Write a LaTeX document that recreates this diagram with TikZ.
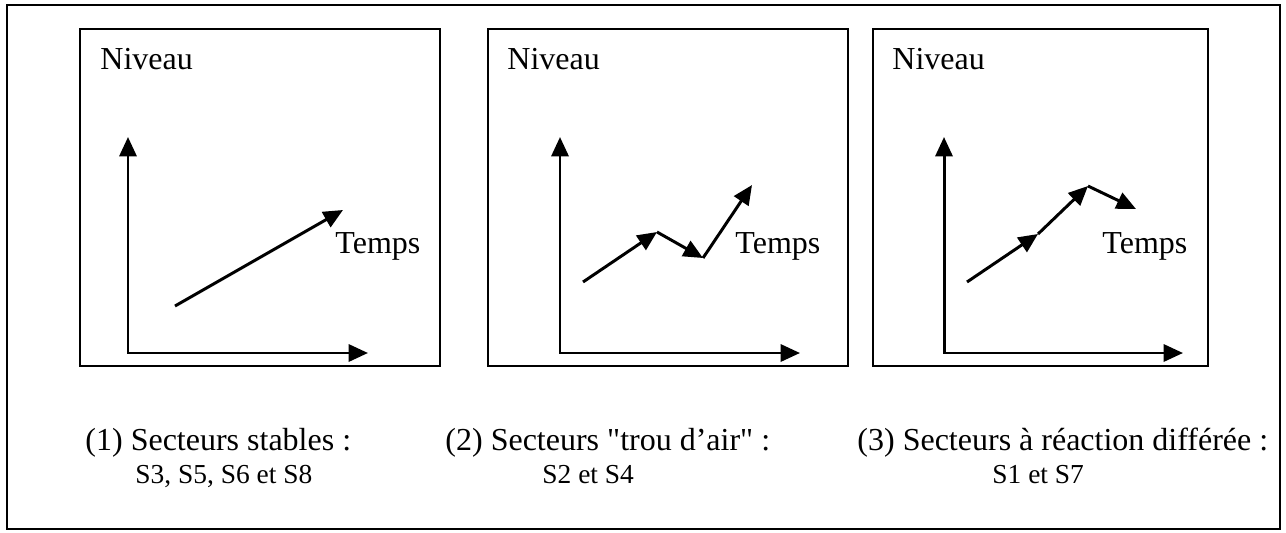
\documentclass[tikz,border=0pt]{standalone}
\usepackage{fontspec}
\setmainfont{Liberation Serif}[Ligatures=TeXOff]
\usetikzlibrary{arrows.meta}

\tikzset{
  fleche/.style={line width=1.3pt,-{Triangle[length=8.5pt,width=7.5pt]}},
  axe/.style={line width=1.3pt,{Triangle[length=8.5pt,width=7.5pt]}-{Triangle[length=8.5pt,width=7.5pt]}},
  cadre/.style={draw,line width=0.9pt},
  grand/.style={anchor=base west,inner sep=0pt,font=\fontsize{14}{16}\selectfont},
  petit/.style={anchor=base west,inner sep=0pt,font=\fontsize{12}{14}\selectfont}
}

\begin{document}
\begin{tikzpicture}
  [x=0.4375pt,y=-0.4375pt]
  \useasboundingbox (0,0) rectangle (1286,532);
  \draw[line width=0.7pt] (7,5) rectangle (1280,529);

  % cadres
  \draw[cadre] (80,29) rectangle (440,366);
  \draw[cadre] (488,29) rectangle (848,366);
  \draw[cadre] (873,29) rectangle (1208,366);

  % axes
  \coordinate (O1) at (128,353); \coordinate (Y1) at (128,137); \coordinate (X1) at (368,353);
  \coordinate (O2) at (560,353); \coordinate (Y2) at (560,137); \coordinate (X2) at (800,353);
  \coordinate (O3) at (944,353); \coordinate (Y3) at (944,137); \coordinate (X3) at (1183,353);

  \foreach \i in {1,2,3}
    \draw[axe] (Y\i) -- (O\i) -- (X\i);

  \foreach \i/\x in {1/100,2/507,3/892}
    \node[grand] (niv\i) at (\x,69) {Niveau};
  \foreach \i/\x in {1/335,2/735,3/1102}
    \node[grand] (tps\i) at (\x,253) {Temps};

  % courbes
  \coordinate (p1) at (175,306);  \coordinate (p2) at (343,210);
  \coordinate (a) at (583,282);   \coordinate (b) at (657,232);
  \coordinate (c) at (703,258);   \coordinate (d) at (752,185);
  \coordinate (e) at (967,282);   \coordinate (f) at (1038,234);
  \coordinate (g) at (1088,186);  \coordinate (h) at (1136,209);

  \foreach \from/\to in {p1/p2,a/b,b/c,c/d,e/f,f/g,g/h}
    \draw[fleche] (\from) -- (\to);

  % legendes
  \node[grand] (leg1) at (85,450) {(1) Secteurs stables :};
  \node[petit] (sec1) at (135,483) {S3, S5, S6 et S8};
  \node[grand] (leg2) at (445,450) {(2) Secteurs "trou d’air" :};
  \node[petit] (sec2) at (542,483) {S2 et S4};
  \node[grand] (leg3) at (857,450) {(3) Secteurs à réaction différée :};
  \node[petit] (sec3) at (992,483) {S1 et S7};

\end{tikzpicture}
\end{document}
